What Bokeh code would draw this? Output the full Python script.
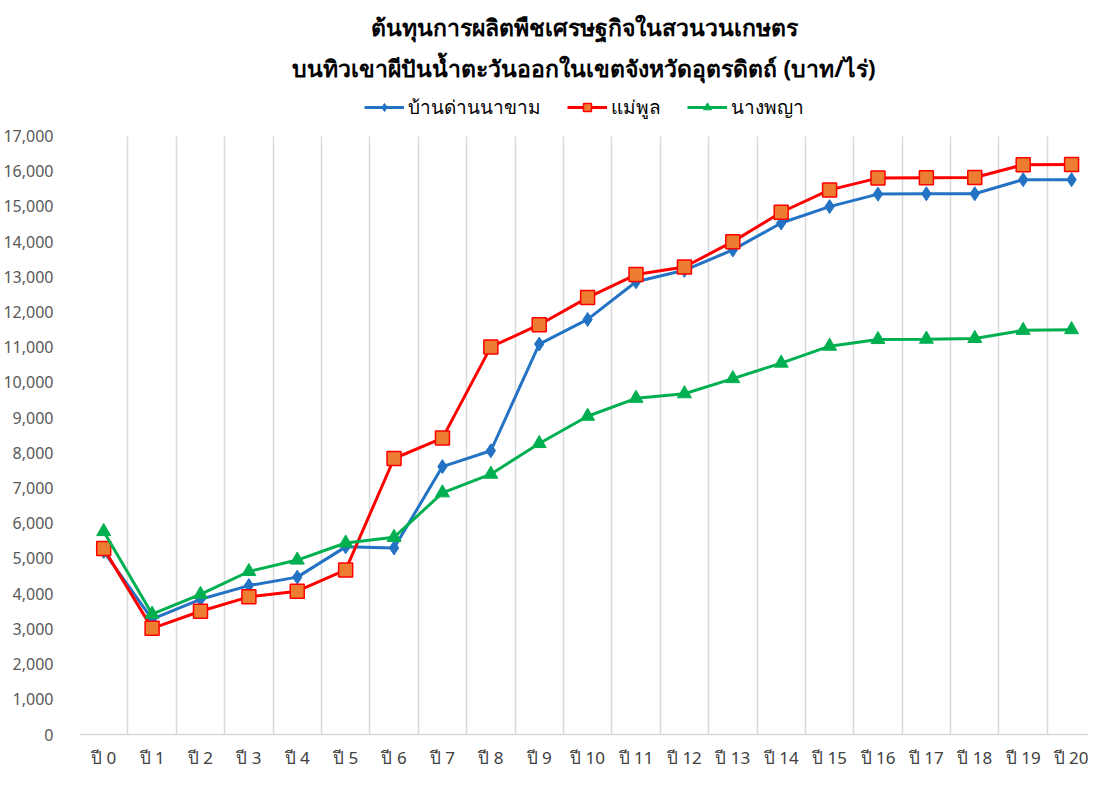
from bokeh.plotting import figure
from bokeh.models import (FixedTicker, NumeralTickFormatter, Range1d, Title,
                          Legend, LegendItem)
from bokeh.embed import file_html
from bokeh.resources import INLINE

title_line1 = "ต้นทุนการผลิตพืชเศรษฐกิจในสวนวนเกษตร"
title_line2 = "บนทิวเขาผีปันน้ำตะวันออกในเขตจังหวัดอุตรดิตถ์ (บาท/ไร่)"

years = ["ปี 0", "ปี 1", "ปี 2", "ปี 3", "ปี 4", "ปี 5", "ปี 6", "ปี 7", "ปี 8", "ปี 9",
         "ปี 10", "ปี 11", "ปี 12", "ปี 13", "ปี 14", "ปี 15", "ปี 16", "ปี 17", "ปี 18",
         "ปี 19", "ปี 20"]

ban_dan_na_kham = [5200, 3280, 3840, 4230, 4470, 5330, 5300, 7610, 8060, 11090, 11790,
                   12860, 13185, 13765, 14530, 14995, 15350, 15360, 15360, 15760, 15760]
mae_phun = [5280, 3015, 3500, 3910, 4070, 4675, 7840, 8420, 11010, 11640, 12410,
            13065, 13280, 14000, 14835, 15470, 15805, 15815, 15820, 16185, 16190]
nang_phaya = [5765, 3420, 3980, 4630, 4955, 5440, 5600, 6865, 7395, 8265, 9040,
              9550, 9680, 10110, 10550, 11030, 11220, 11230, 11250, 11480, 11500]

series_names = ["บ้านด่านนาขาม", "แม่พูล", "นางพญา"]
y_ticks = list(range(0, 17001, 1000))
y_max = y_ticks[-1]

FONT = "Noto Sans"
x = list(range(len(years)))

p = figure(width=1088, height=771, output_backend="svg", toolbar_location=None,
           x_range=Range1d(-0.5, len(years) - 0.65), y_range=Range1d(0, 18350),
           min_border_left=73, min_border_right=0, min_border_bottom=26,
           min_border_top=88)
p.outline_line_color = None
p.background_fill_color = "white"

# axes
p.yaxis.ticker = FixedTicker(ticks=y_ticks)
p.yaxis.formatter = NumeralTickFormatter(format="0,0")
p.yaxis.axis_line_color = None
p.yaxis.major_tick_line_color = None
p.yaxis.minor_tick_line_color = None
p.yaxis.major_label_standoff = 20
p.yaxis.major_label_text_font = FONT
p.yaxis.major_label_text_font_size = "16px"
p.yaxis.major_label_text_color = "#595959"

p.xaxis.ticker = FixedTicker(ticks=x)
p.xaxis.major_label_overrides = {i: s for i, s in enumerate(years)}
p.xaxis.axis_line_color = "#D9D9D9"
p.xaxis.axis_line_width = 1.5
p.xaxis.major_tick_line_color = None
p.xaxis.minor_tick_line_color = None
p.xaxis.major_label_standoff = 5
p.xaxis.major_label_text_font = FONT
p.xaxis.major_label_text_font_size = "17px"
p.xaxis.major_label_text_line_height = 0.9
p.xaxis.major_label_text_color = "#404040"

p.ygrid.grid_line_color = None
p.xgrid.ticker = FixedTicker(ticks=[i - 0.5 for i in x])
p.xgrid.cross_bounds = (0, y_max)
p.xgrid.grid_line_color = "#D9D9D9"
p.xgrid.grid_line_width = 1.5

# series
blue, red, orange, green = "#2372C4", "#FF0000", "#ED7D31", "#00B050"
l1 = p.line(x, ban_dan_na_kham, line_color=blue, line_width=3)
m1 = p.scatter(x, ban_dan_na_kham, marker="diamond", size=14, fill_color=blue,
               line_color=blue)
l2 = p.line(x, mae_phun, line_color=red, line_width=3)
m2 = p.scatter(x, mae_phun, marker="square", size=14, fill_color=orange,
               line_color=red, line_width=1.5)
l3 = p.line(x, nang_phaya, line_color=green, line_width=3)
m3 = p.scatter(x, nang_phaya, marker="triangle", size=14, fill_color=green,
               line_color=green)

legend = Legend(items=[LegendItem(label=series_names[0], renderers=[l1, m1]),
                       LegendItem(label=series_names[1], renderers=[l2, m2]),
                       LegendItem(label=series_names[2], renderers=[l3, m3])],
                orientation="horizontal", location="top_center",
                label_text_font=FONT, label_text_font_size="19px",
                label_text_color="#000000", glyph_width=40, spacing=26,
                border_line_color=None, background_fill_alpha=0,
                padding=2, margin=4, label_standoff=4)
p.add_layout(legend)

t2 = Title(text=title_line2, align="center", text_font=FONT, text_font_size="23px",
           text_font_style="bold", text_color="#000000", standoff=10)
t1 = Title(text=title_line1, align="center", text_font=FONT, text_font_size="23px",
           text_font_style="bold", text_color="#000000", standoff=4)
p.add_layout(t2, "above")
p.add_layout(t1, "above")

open("out.html", "w").write(file_html(p, INLINE))
